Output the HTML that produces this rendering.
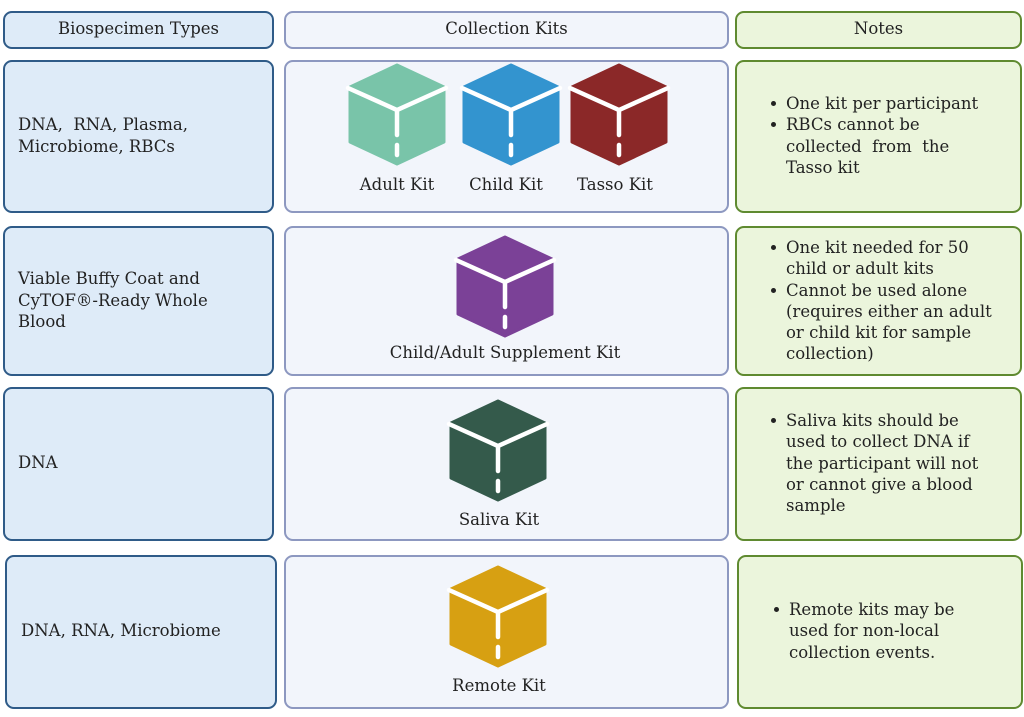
<!DOCTYPE html>
<html><head><meta charset="utf-8"><style>
body{margin:0;width:1024px;height:717px;background:#fff;position:relative;overflow:hidden;font-family:"DejaVu Serif","Liberation Serif",serif;color:#222;}
.b{position:absolute;box-sizing:border-box;border-radius:9px;border:2px solid;}
.c1{border-color:#2f5b88;background:#deebf8;}
.c2{border-color:#8d98c0;background:#f2f5fb;}
.c3{border-color:#5f8a30;background:#ebf5dc;}
.t{position:absolute;font-size:16.5px;line-height:21.5px;white-space:nowrap;}
.h{position:absolute;font-size:16.5px;text-align:center;white-space:nowrap;}
.n{position:absolute;font-size:16.5px;line-height:21.3px;white-space:nowrap;}
.n div{position:relative;padding-left:17px;}
.n div:before{content:"";position:absolute;left:2px;top:8px;width:5px;height:5px;border-radius:50%;background:#222;}
svg{position:absolute;left:0;top:0;}
</style></head><body>
<div class="b c1" style="left:3px;top:11px;width:271px;height:38px"></div>
<div class="b c2" style="left:284px;top:11px;width:445px;height:38px"></div>
<div class="b c3" style="left:735px;top:11px;width:287px;height:38px"></div>
<div class="h" style="left:3px;top:19px;width:271px">Biospecimen Types</div>
<div class="h" style="left:284px;top:19px;width:445px">Collection Kits</div>
<div class="h" style="left:735px;top:19px;width:287px">Notes</div>

<div class="b c1" style="left:3px;top:60px;width:271px;height:153px"></div>
<div class="b c2" style="left:284px;top:60px;width:445px;height:153px"></div>
<div class="b c3" style="left:735px;top:60px;width:287px;height:153px"></div>

<div class="b c1" style="left:3px;top:226px;width:271px;height:150px"></div>
<div class="b c2" style="left:284px;top:226px;width:445px;height:150px"></div>
<div class="b c3" style="left:735px;top:226px;width:287px;height:150px"></div>

<div class="b c1" style="left:3px;top:387px;width:271px;height:154px"></div>
<div class="b c2" style="left:284px;top:387px;width:445px;height:154px"></div>
<div class="b c3" style="left:735px;top:387px;width:287px;height:154px"></div>

<div class="b c1" style="left:5px;top:555px;width:272px;height:154px"></div>
<div class="b c2" style="left:284px;top:555px;width:445px;height:154px"></div>
<div class="b c3" style="left:737px;top:555px;width:286px;height:154px"></div>

<div class="t" style="left:18px;top:114px">DNA,&nbsp; RNA, Plasma,<br>Microbiome, RBCs</div>
<div class="t" style="left:18px;top:268px">Viable Buffy Coat and<br>CyTOF®-Ready Whole<br>Blood</div>
<div class="t" style="left:18px;top:452px">DNA</div>
<div class="t" style="left:21px;top:620px">DNA, RNA, Microbiome</div>

<svg width="1024" height="717">
<defs>
<g id="cube">
<path d="M0,0 L47,22 L47,77 L0,99 L-47,77 L-47,22 Z" stroke-linejoin="round" stroke-width="3" />
<path d="M-49,23 L0,45 L49,23 M0,45 L0,70 M0,80 L0,90" stroke="#fff" stroke-width="4.5" stroke-linecap="round" fill="none"/>
</g>
</defs>
<use href="#cube" x="397" y="65" fill="#79c4a9" stroke="#79c4a9"/>
<use href="#cube" x="511" y="65" fill="#3394cf" stroke="#3394cf"/>
<use href="#cube" x="619" y="65" fill="#8b2828" stroke="#8b2828"/>
<use href="#cube" x="505" y="237" fill="#7b4197" stroke="#7b4197"/>
<use href="#cube" x="498" y="401" fill="#345a4b" stroke="#345a4b"/>
<use href="#cube" x="498" y="567" fill="#d7a012" stroke="#d7a012"/>
</svg>

<div class="h" style="left:347px;top:175px;width:100px">Adult Kit</div>
<div class="h" style="left:456px;top:175px;width:100px">Child Kit</div>
<div class="h" style="left:565px;top:175px;width:100px">Tasso Kit</div>
<div class="h" style="left:284px;top:343px;width:442px">Child/Adult Supplement Kit</div>
<div class="h" style="left:284px;top:510px;width:430px">Saliva Kit</div>
<div class="h" style="left:284px;top:676px;width:430px">Remote Kit</div>

<div class="n" style="left:769px;top:93px"><div>One kit per participant</div><div>RBCs cannot be<br>collected&nbsp; from&nbsp; the<br>Tasso kit</div></div>
<div class="n" style="left:769px;top:237px"><div>One kit needed for 50<br>child or adult kits</div><div>Cannot be used alone<br>(requires either an adult<br>or child kit for sample<br>collection)</div></div>
<div class="n" style="left:769px;top:410px"><div>Saliva kits should be<br>used to collect DNA if<br>the participant will not<br>or cannot give a blood<br>sample</div></div>
<div class="n" style="left:772px;top:599px"><div>Remote kits may be<br>used for non-local<br>collection events.</div></div>
</body></html>
